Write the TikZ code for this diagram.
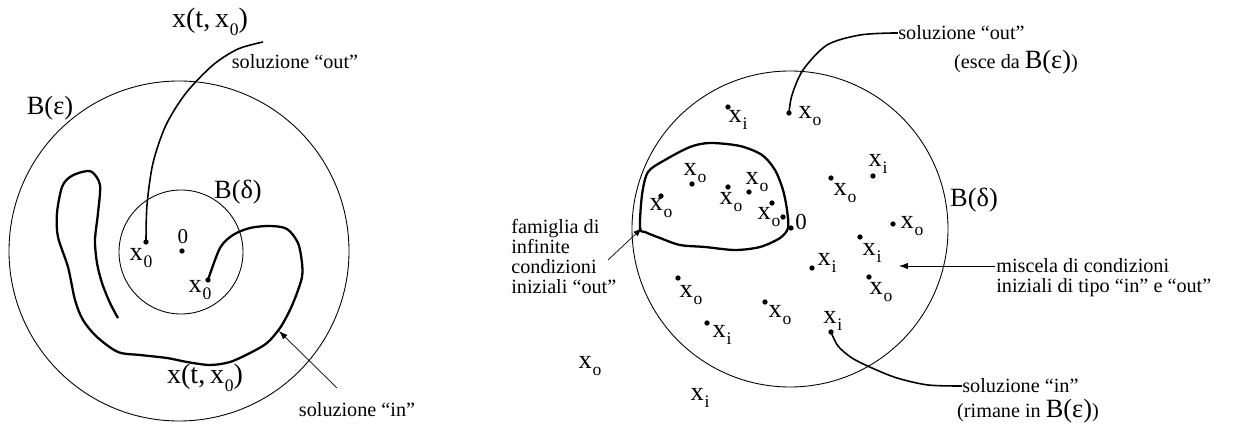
\documentclass[tikz,border=0pt]{standalone}
\usepackage{fontspec}
\setmainfont{Liberation Serif}
\usetikzlibrary{arrows.meta}
\usetikzlibrary{positioning}

% x with a lowered index
\newcommand{\xsub}[1]{x\kern0.4pt\raisebox{-0.6ex}{\fontsize{10}{10}\selectfont #1}}

\tikzset{
  dot/.style={circle,fill,inner sep=0pt,minimum size=3pt},
  big/.style={font=\fontsize{15}{15}\selectfont,inner sep=0pt},
  huge/.style={font=\fontsize{16}{16}\selectfont,inner sep=0pt},
  small/.style={font=\fontsize{11.5}{11.4}\selectfont,inner sep=0pt,align=left},
  ball/.style={line width=0.5pt},
  trajout/.style={line width=0.9pt},
  trajin/.style={line width=1.3pt},
  pointer/.style={-{Latex[length=5pt,width=3.5pt]},line width=0.4pt},
}

\begin{document}
\begin{tikzpicture}[x=0.02cm,y=-0.02cm]
  \useasboundingbox (0,0) rectangle (1235,425);

  % ---------- Sinistra ----------
  \draw[ball] (179,251) circle (170);
  \draw[ball] (181,252) circle (62);
  \node[big] (Beps) at (50,108) {B(ε)};
  \node[big] (Bdel) at (238,192) {B(δ)};

  \node[dot] (orig) at (182,251) {};
  \node[font=\fontsize{12}{12}\selectfont,inner sep=0pt] (origlab) at (183,237) {0};

  \node[dot] (xa) at (146,242) {};
  \node[big] (xalab) at (141,258) {\xsub{0}};
  \node[dot] (xb) at (208,280) {};
  \node[big] (xblab) at (200,290) {\xsub{0}};

  % soluzione out
  \coordinate (outend) at (263,42);
  \draw[trajout] plot[smooth] coordinates {(xa) (147,205) (153,163) (166,125) (186,93) (213,65) (238,49) (outend)};
  \node[huge] (xttop) at (210,22) {x(t,\,\xsub{0})};
  \node[small] (outtxt) at (295,62) {soluzione “out”};

  % soluzione in
  \draw[trajin] plot[smooth] coordinates {(xb) (220,248) (233,235) (250,228) (270,226) (287,229)
    (298,243) (302,263) (302,277) (297,293) (290,310) (280,328) (267,343) (250,353)
    (230,362) (210,365) (187,362) (167,358) (140,355) (118,352) (97,337) (83,320)
    (75,300) (68,267) (58,237) (57,213) (62,187) (70,177) (82,172) (92,172) (100,185)
    (98,213) (95,240) (97,263) (102,283) (110,303) (118,318)};
  \node[huge] (xtbot) at (205,378) {x(t,\,\xsub{0})};
  \node[small] (intxt) at (357,410) {soluzione “in”};
  \coordinate (inarr) at (337,388);
  \coordinate (inhit) at (279,331);
  \draw[pointer] (inarr) -- (inhit);

  % ---------- Destra ----------
  \draw[ball] (790,229) circle (158);
  \node[big] (Bdel2) at (974,200) {B(δ)};

  % famiglia di condizioni out
  \draw[trajin] plot[smooth cycle] coordinates {(640,228) (642,195) (648,172) (665,160)
    (690,147) (710,143) (740,146) (762,155) (775,170) (783,190) (787,210) (788,228)
    (780,238) (760,247) (735,250) (705,247) (680,245) (660,238) (645,232)};

  \node[dot] (o2) at (791,228) {};
  \node[font=\fontsize{13}{13}\selectfont,inner sep=0pt] (o2lab) at (801,222) {0};

  % punti con etichetta
  \foreach \px/\py/\lx/\ly/\s [count=\k] in {
    692/184/695/173/o, 661/196/661/208/o, 728/187/731/202/o,
    749/192/757/182/o, 772/203/769/217/o,
    728/107/738/120/i, 789/113/810/116/o, 873/176/878/164/i,
    831/178/845/193/o, 893/224/912/226/o, 860/237/872/253/i,
    812/268/827/263/i, 869/277/881/292/o, 678/278/691/295/o,
    765/302/780/315/o, 707/323/722/335/i, 831/332/835/321/i
  } {
    \node[dot] (p\k) at (\px,\py) {};
    \node[big] (l\k) at (\lx,\ly) {\xsub{\s}};
  }
  \node[dot] (p0) at (783,217) {};

  % fuori
  \node[big] (lout1) at (590,366) {\xsub{o}};
  \node[big] (lout2) at (700,398) {\xsub{i}};

  % soluzione out (destra)
  \node[small,anchor=west] (out2) at (898,33) {soluzione “out”};
  \node[small] (out2b) at (1016,62) {(esce da {\fontsize{15}{15}\selectfont B(ε)})};
  \draw[trajout] plot[smooth] coordinates {(p7) (792,95) (803,70) (827,45) (860,35) (893,33)};
  \draw[trajout] (893,33) -- (out2.west);

  % soluzione in (destra)
  \node[small,anchor=west] (in2) at (962,386) {soluzione “in”};
  \node[small] (in2b) at (1028,411) {(rimane in {\fontsize{15}{15}\selectfont B(ε)})};
  \draw[trajout] plot[smooth] coordinates {(p17) (838,346) (852,358) (872,368) (897,378) (928,385) (in2.west)};

  % famiglia
  \node[small,anchor=north west] (fam) at (511,219) {famiglia di\\infinite\\condizioni\\iniziali “out”};
  \coordinate (famarr) at (608,260);
  \coordinate (famhit) at (642,228);
  \draw[pointer] (famarr) -- (famhit);

  % miscela
  \node[small,anchor=north west] (mix) at (996,258) {miscela di condizioni\\iniziali di tipo “in” e “out”};
  \coordinate (mixhit) at (899,266);
  \draw[pointer] (995,266) -- (mixhit);
\end{tikzpicture}
\end{document}
